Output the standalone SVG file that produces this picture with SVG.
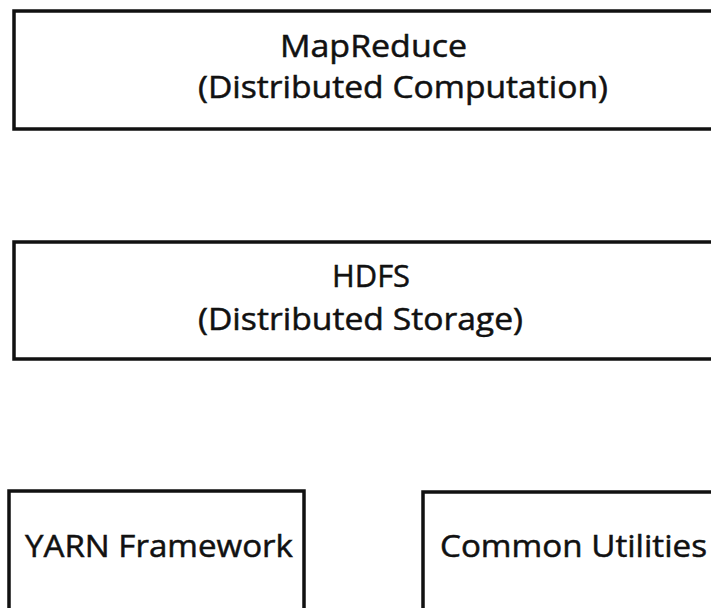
<svg xmlns="http://www.w3.org/2000/svg" width="711" height="608" viewBox="0 0 711 608">
<style>
.box{fill:#fff;stroke:#111;stroke-width:3.5}
.t{font-family:"Open Sans","Noto Sans",sans-serif;font-size:31px;fill:#111;stroke:#111;stroke-width:0.5;text-anchor:start}
</style>
<rect width="711" height="608" fill="#fff"/>
<g id="mapreduce">
<rect class="box" x="14" y="11" width="720" height="118"/>
<text class="t" x="280" y="57" textLength="187" lengthAdjust="spacingAndGlyphs">MapReduce</text>
<text class="t" x="198" y="98" textLength="410" lengthAdjust="spacingAndGlyphs">(Distributed Computation)</text>
</g>
<g id="hdfs">
<rect class="box" x="14" y="242" width="720" height="117"/>
<text class="t" x="332" y="287" textLength="78" lengthAdjust="spacingAndGlyphs">HDFS</text>
<text class="t" x="198" y="330" textLength="325" lengthAdjust="spacingAndGlyphs">(Distributed Storage)</text>
</g>
<g id="yarn">
<rect class="box" x="9" y="491" width="295" height="130"/>
<text class="t" x="25" y="557" textLength="268" lengthAdjust="spacingAndGlyphs">YARN Framework</text>
</g>
<g id="common">
<rect class="box" x="423" y="492" width="300" height="130"/>
<text class="t" x="440" y="557" textLength="267" lengthAdjust="spacingAndGlyphs">Common Utilities</text>
</g>
<g id="connectors"></g>
</svg>
